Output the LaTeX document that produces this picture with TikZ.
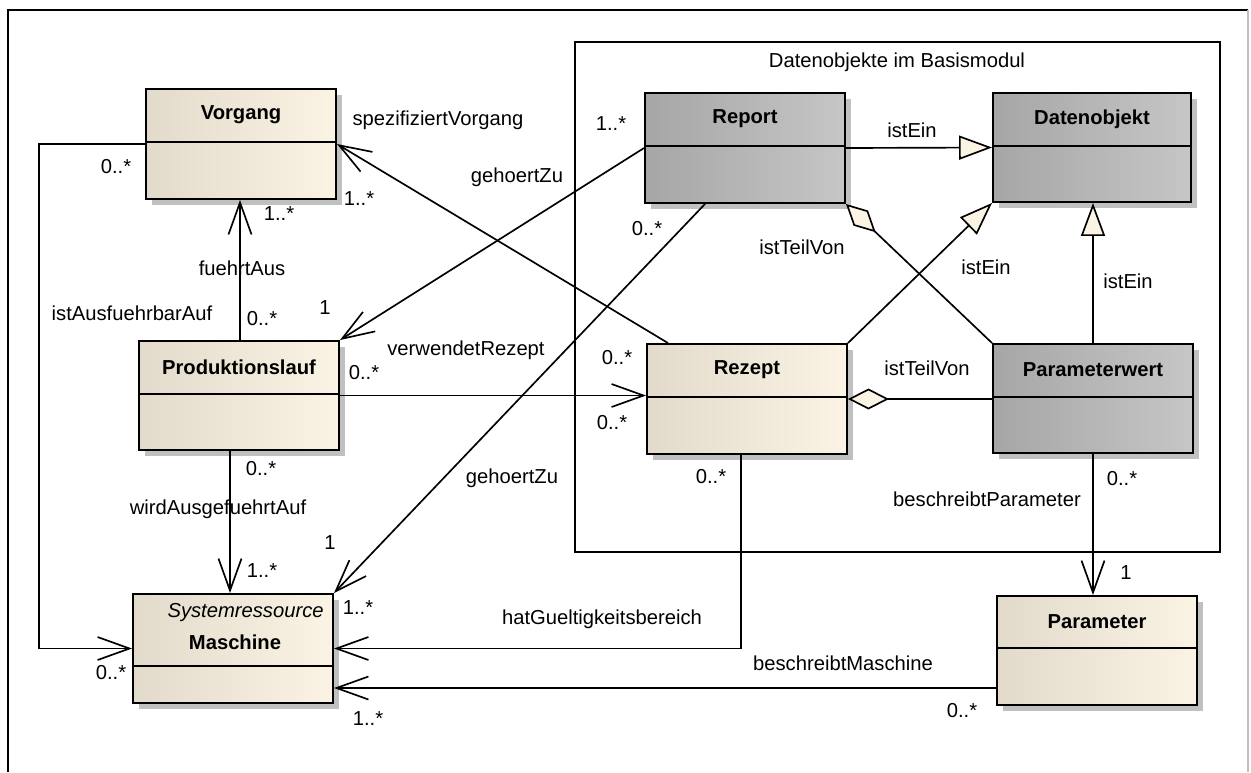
\documentclass[tikz,border=0pt]{standalone}
\usepackage{fontspec}
\setmainfont{Liberation Sans}
\usetikzlibrary{arrows.meta,calc,fit,shadows}

\definecolor{beigeL}{RGB}{226,218,202}
\definecolor{beigeR}{RGB}{251,244,229}
\definecolor{grauL}{RGB}{166,166,166}
\definecolor{grauR}{RGB}{198,198,198}
\definecolor{schatten}{RGB}{192,192,192}

\newcommand{\schrift}{\fontsize{11.5}{13}\selectfont}

\tikzset{
  klasse/.style={draw, line width=1.1pt, inner sep=0pt, left color=beigeL, right color=beigeR,
    drop shadow={shadow xshift=0.12cm, shadow yshift=-0.12cm, fill=schatten, opacity=1}},
  datenklasse/.style={klasse, left color=grauL, right color=grauR},
  titel/.style={font=\schrift\bfseries, inner sep=0pt},
  rolle/.style={font=\schrift, inner sep=0pt, text height=8pt, text depth=0pt},
  assoz/.style={draw, line width=0.95pt, -{Straight Barb[length=0.64cm, width=0.46cm]}},
  erbt/.style={draw, line width=0.95pt, -{Triangle[length=0.66cm, width=0.48cm, fill=beigeR]}},
  teil/.style={draw, line width=0.95pt, {Diamond[length=0.82cm, width=0.42cm, fill=beigeR]}-},
}

\begin{document}
\begin{tikzpicture}[x=0.02cm, y=-0.02cm]
\useasboundingbox (0,0) rectangle (1251,772);
\fill[white] (0,0) rectangle (1251,772);

% rahmen und paket
\draw[line width=1.2pt] (8,772) -- (8,10) -- (1248,10);
\draw[gray!50, line width=0.8pt] (1248,10) -- (1248,772);
\draw[line width=0.95pt] (575,42) rectangle (1220,552);
\node[rolle] (paket-name) at (897,60) {Datenobjekte im Basismodul};

% klassen
\node[klasse, fit={(146,89) (336,199)}] (vorgang) {};
\node[klasse, fit={(139,341) (339,450)}] (prodlauf) {};
\node[klasse, fit={(133,594) (333,703)}] (maschine) {};
\node[datenklasse, fit={(645,93) (845,203)}] (report) {};
\node[datenklasse, fit={(993,93) (1191,202)}] (datenobjekt) {};
\node[klasse, fit={(647,344) (847,454)}] (rezept) {};
\node[datenklasse, fit={(993,344) (1193,453)}] (parameterwert) {};
\node[klasse, fit={(997,596) (1197,705)}] (parameter) {};

\draw[line width=1.1pt] ($(vorgang.north west)+(0,54)$) -- ($(vorgang.north east)+(0,54)$);
\draw[line width=1.1pt] ($(prodlauf.north west)+(0,54)$) -- ($(prodlauf.north east)+(0,54)$);
\draw[line width=1.1pt] ($(maschine.north west)+(0,73)$) -- ($(maschine.north east)+(0,73)$);
\draw[line width=1.1pt] ($(report.north west)+(0,54)$) -- ($(report.north east)+(0,54)$);
\draw[line width=1.1pt] ($(datenobjekt.north west)+(0,54)$) -- ($(datenobjekt.north east)+(0,54)$);
\draw[line width=1.1pt] ($(rezept.north west)+(0,54)$) -- ($(rezept.north east)+(0,54)$);
\draw[line width=1.1pt] ($(parameterwert.north west)+(0,54)$) -- ($(parameterwert.north east)+(0,54)$);
\draw[line width=1.1pt] ($(parameter.north west)+(0,53)$) -- ($(parameter.north east)+(0,53)$);

\node[titel] (vorgang-name) at ($(vorgang.north)+(0,27)$) {Vorgang};
\node[titel] (prodlauf-name) at ($(prodlauf.north)+(0,27)$) {Produktionslauf};
\node[rolle, font=\schrift\itshape, anchor=east] (maschine-paket) at ($(maschine.north east)+(-10,17)$) {Systemressource};
\node[titel] (maschine-name) at ($(maschine.north)+(2,49)$) {Maschine};
\node[titel] (report-name) at ($(report.north)+(0,27)$) {Report};
\node[titel] (datenobjekt-name) at ($(datenobjekt.north)+(0,27)$) {Datenobjekt};
\node[titel] (rezept-name) at ($(rezept.north)+(0,27)$) {Rezept};
\node[titel] (parameterwert-name) at ($(parameterwert.north)+(0,27)$) {Parameterwert};
\node[titel] (parameter-name) at ($(parameter.north)+(0,27)$) {Parameter};

% assoziationen
\draw[assoz] (prodlauf.north -| 240,0) -- (vorgang.south -| 240,0);
\draw[assoz] (rezept.north -| 668,0) -- (vorgang.east);
\draw[assoz] (report.west) -- (prodlauf.north east);
\draw[assoz] (prodlauf.east) -- (rezept.west |- prodlauf.east);
\draw[assoz] (report.south -| 705,0) -- (maschine.north east);
\draw[assoz] (prodlauf.south -| 230,0) -- (maschine.north -| 230,0);
\draw[assoz] (vorgang.west) -- ++(-106,0) |- (maschine.west);
\draw[assoz] (rezept.south -| 741,0) |- (maschine.east);
\draw[assoz] (parameter.west |- 0,688) -- (maschine.east |- 0,688);
\draw[assoz] (parameterwert.south) -- (parameter.north -| parameterwert.south);

% vererbung
\draw[erbt] (report.east) -- (datenobjekt.west);
\draw[erbt] (rezept.north east) -- (datenobjekt.south west);
\draw[erbt] (parameterwert.north) -- (datenobjekt.south -| parameterwert.north);

% aggregation
\draw[teil] (report.south east) -- (parameterwert.north west);
\draw[teil] (rezept.east) -- (parameterwert.west |- rezept.east);

% beschriftungen
\node[rolle] (l-fuehrt) at (242,268) {fuehrtAus};
\node[rolle] (m-fuehrt-a) at (279,213) {1..*};
\node[rolle] (m-fuehrt-b) at (262,318) {0..*};
\node[rolle] (l-spez) at (438,118) {spezifiziertVorgang};
\node[rolle] (m-spez-a) at (359,198) {1..*};
\node[rolle] (m-spez-b) at (617,357) {0..*};
\node[rolle] (l-gehoert-a) at (517,175) {gehoertZu};
\node[rolle] (m-gehoert-a1) at (611,123) {1..*};
\node[rolle] (m-gehoert-a2) at (325,307) {1};
\node[rolle] (l-verwendet) at (466,348) {verwendetRezept};
\node[rolle] (m-verwendet-a) at (364,372) {0..*};
\node[rolle] (m-verwendet-b) at (612,422) {0..*};
\node[rolle] (l-gehoert-b) at (512,476) {gehoertZu};
\node[rolle] (m-gehoert-b1) at (647,228) {0..*};
\node[rolle] (m-gehoert-b2) at (330,542) {1};
\node[rolle] (m-gehoert-b3) at (358,607) {1..*};
\node[rolle] (l-wird) at (218,507) {wirdAusgefuehrtAuf};
\node[rolle] (m-wird-a) at (261,468) {0..*};
\node[rolle] (m-wird-b) at (262,570) {1..*};
\node[rolle] (l-ist) at (132,313) {istAusfuehrbarAuf};
\node[rolle] (m-ist-a) at (116,166) {0..*};
\node[rolle] (m-ist-b) at (111,672) {0..*};
\node[rolle] (l-hat) at (602,617) {hatGueltigkeitsbereich};
\node[rolle] (m-hat) at (711,476) {0..*};
\node[rolle] (l-beschr-m) at (843,663) {beschreibtMaschine};
\node[rolle] (m-beschr-m1) at (962,710) {0..*};
\node[rolle] (m-beschr-m2) at (368,718) {1..*};
\node[rolle] (l-beschr-p) at (987,499) {beschreibtParameter};
\node[rolle] (m-beschr-p1) at (1122,478) {0..*};
\node[rolle] (m-beschr-p2) at (1126,572) {1};
\node[rolle] (l-istein-a) at (912,130) {istEin};
\node[rolle] (l-istein-b) at (986,267) {istEin};
\node[rolle] (l-istein-c) at (1128,281) {istEin};
\node[rolle] (l-teil-a) at (802,247) {istTeilVon};
\node[rolle] (l-teil-b) at (927,368) {istTeilVon};
\end{tikzpicture}
\end{document}
